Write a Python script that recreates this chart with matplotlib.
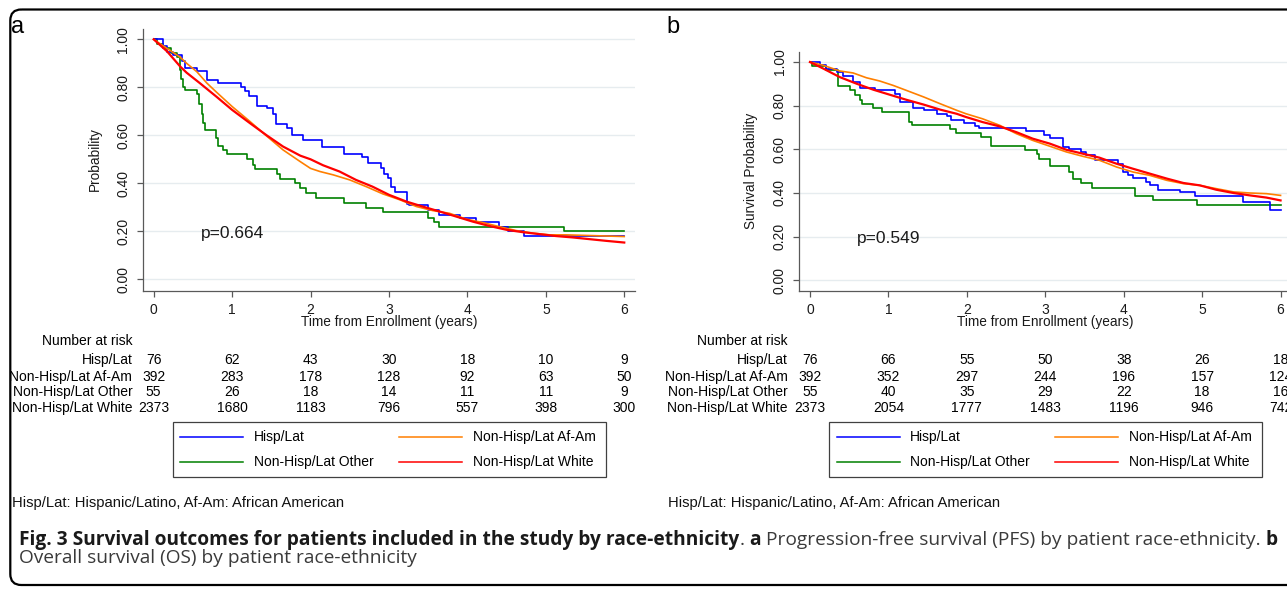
import matplotlib
matplotlib.use("Agg")
import matplotlib.pyplot as plt
from matplotlib.patches import FancyBboxPatch, Rectangle
from matplotlib.transforms import blended_transform_factory

plt.rcParams['font.family'] = ['Liberation Sans', 'DejaVu Sans']

W, H = 1287, 589

groups = ['Hisp/Lat', 'Non-Hisp/Lat Af-Am', 'Non-Hisp/Lat Other', 'Non-Hisp/Lat White']
colors = ['#0000ff', '#ff7f00', '#008000', '#ff0000']
years = [0, 1, 2, 3, 4, 5, 6]
y_ticks = [0.0, 0.2, 0.4, 0.6, 0.8, 1.0]

# ---- a: progression-free survival ----
pfs_hisp_t = [0, 0.12, 0.17, 0.25, 0.36, 0.40, 0.55, 0.68, 0.82, 1.11, 1.16, 1.22, 1.32, 1.44, 1.52,
              1.56, 1.70, 1.76, 1.91, 2.15, 2.43, 2.66, 2.73, 2.90, 2.94, 2.99, 3.02, 3.08, 3.23,
              3.26, 3.50, 3.64, 3.91, 4.11, 4.40, 4.52, 4.72, 6.0]
pfs_hisp_s = [1.0, 0.974, 0.947, 0.934, 0.908, 0.882, 0.868, 0.829, 0.816, 0.800, 0.786, 0.765, 0.722,
              0.712, 0.690, 0.647, 0.629, 0.603, 0.580, 0.553, 0.522, 0.511, 0.483, 0.462, 0.440,
              0.420, 0.386, 0.365, 0.314, 0.310, 0.289, 0.268, 0.254, 0.240, 0.219, 0.199, 0.182, 0.182]
pfs_afam_t = [0, 0.17, 0.34, 0.42, 0.55, 0.68, 0.80, 1.0, 1.23, 1.44, 1.65, 1.87, 2.0, 2.12, 2.29,
              2.50, 2.71, 2.92, 3.14, 3.35, 3.56, 3.77, 3.99, 4.20, 4.41, 4.62, 4.84, 5.05, 5.26, 5.47, 6.0]
pfs_afam_s = [1.0, 0.962, 0.925, 0.900, 0.865, 0.817, 0.780, 0.720, 0.657, 0.597, 0.539, 0.490, 0.462,
              0.449, 0.435, 0.414, 0.386, 0.356, 0.331, 0.303, 0.286, 0.275, 0.250, 0.236, 0.219,
              0.203, 0.192, 0.185, 0.185, 0.183, 0.178]
pfs_other_t = [0, 0.04, 0.12, 0.22, 0.30, 0.335, 0.345, 0.37, 0.40, 0.55, 0.58, 0.61, 0.625, 0.655,
               0.79, 0.82, 0.88, 0.93, 1.19, 1.27, 1.29, 1.57, 1.61, 1.80, 1.87, 1.94, 2.07, 2.43,
               2.71, 2.92, 3.50, 3.58, 3.64, 5.23, 6.0]
pfs_other_s = [1.0, 0.982, 0.964, 0.945, 0.927, 0.873, 0.836, 0.800, 0.790, 0.770, 0.730, 0.690, 0.650,
               0.620, 0.590, 0.557, 0.540, 0.520, 0.500, 0.476, 0.460, 0.440, 0.418, 0.400, 0.380,
               0.360, 0.338, 0.319, 0.296, 0.279, 0.254, 0.240, 0.217, 0.199, 0.199]
pfs_white_t = [0, 0.17, 0.34, 0.42, 0.59, 0.80, 1.0, 1.23, 1.44, 1.65, 1.87, 2.0, 2.16, 2.37, 2.58,
               2.79, 3.0, 3.22, 3.43, 3.65, 3.86, 4.07, 4.28, 4.50, 4.71, 4.92, 5.13, 5.35, 5.56, 5.77, 6.0]
pfs_white_s = [1.0, 0.950, 0.886, 0.861, 0.817, 0.761, 0.706, 0.650, 0.600, 0.553, 0.515, 0.500, 0.475,
               0.449, 0.414, 0.386, 0.352, 0.324, 0.303, 0.282, 0.261, 0.240, 0.222, 0.206, 0.196,
               0.188, 0.180, 0.174, 0.167, 0.160, 0.153]
pfs_risk = [[76, 62, 43, 30, 18, 10, 9],
            [392, 283, 178, 128, 92, 63, 50],
            [55, 26, 18, 14, 11, 11, 9],
            [2373, 1680, 1183, 796, 557, 398, 300]]

# ---- b: overall survival ----
os_hisp_t = [0, 0.13, 0.21, 0.34, 0.42, 0.55, 0.64, 0.83, 1.09, 1.15, 1.32, 1.45, 1.62, 1.75, 1.80,
             1.97, 2.10, 2.16, 2.76, 2.99, 3.06, 3.23, 3.30, 3.45, 3.52, 3.63, 3.93, 3.99, 4.06,
             4.12, 4.29, 4.33, 4.44, 4.72, 4.91, 5.52, 5.86, 6.0]
os_hisp_s = [1.0, 0.985, 0.969, 0.954, 0.934, 0.908, 0.882, 0.870, 0.855, 0.817, 0.790, 0.779, 0.763,
             0.751, 0.735, 0.720, 0.708, 0.698, 0.682, 0.667, 0.652, 0.611, 0.600, 0.588, 0.573,
             0.550, 0.534, 0.496, 0.481, 0.470, 0.450, 0.435, 0.415, 0.405, 0.385, 0.359, 0.324, 0.324]
os_afam_t = [0, 0.17, 0.30, 0.38, 0.55, 0.72, 0.89, 1.06, 1.23, 1.45, 1.66, 1.87, 1.99, 2.20, 2.42,
             2.63, 2.84, 3.06, 3.27, 3.48, 3.69, 3.91, 4.12, 4.33, 4.55, 4.76, 4.97, 5.18, 5.40,
             5.61, 5.82, 6.0]
os_afam_s = [1.0, 0.985, 0.969, 0.959, 0.950, 0.928, 0.913, 0.893, 0.870, 0.840, 0.809, 0.779, 0.763,
             0.740, 0.710, 0.672, 0.641, 0.614, 0.588, 0.568, 0.550, 0.519, 0.496, 0.481, 0.458,
             0.443, 0.435, 0.420, 0.405, 0.400, 0.397, 0.389]
os_other_t = [0, 0.03, 0.21, 0.36, 0.51, 0.57, 0.64, 0.66, 0.81, 0.92, 1.26, 1.30, 1.79, 1.86, 2.18,
              2.31, 2.74, 2.89, 2.92, 3.06, 3.30, 3.35, 3.45, 3.59, 4.14, 4.38, 4.93, 6.0]
os_other_s = [1.0, 0.982, 0.962, 0.889, 0.870, 0.847, 0.827, 0.809, 0.790, 0.771, 0.725, 0.713, 0.695,
              0.675, 0.656, 0.615, 0.598, 0.580, 0.557, 0.524, 0.496, 0.463, 0.445, 0.423, 0.385,
              0.366, 0.347, 0.347]
os_white_t = [0, 0.17, 0.38, 0.60, 0.81, 1.02, 1.23, 1.45, 1.66, 1.87, 1.99, 2.20, 2.42, 2.63, 2.84,
              3.06, 3.27, 3.48, 3.69, 3.91, 4.12, 4.33, 4.55, 4.76, 4.97, 5.18, 5.40, 5.61, 5.82, 6.0]
os_white_s = [1.0, 0.970, 0.931, 0.900, 0.873, 0.850, 0.827, 0.805, 0.782, 0.763, 0.748, 0.725, 0.705,
              0.679, 0.649, 0.626, 0.598, 0.580, 0.562, 0.534, 0.511, 0.489, 0.466, 0.446, 0.435,
              0.415, 0.400, 0.389, 0.379, 0.366]
os_risk = [[76, 66, 55, 50, 38, 26, 18],
           [392, 352, 297, 244, 196, 157, 124],
           [55, 40, 35, 29, 22, 18, 16],
           [2373, 2054, 1777, 1483, 1196, 946, 742]]

note = 'Hisp/Lat: Hispanic/Latino, Af-Am: African American'

# small groups step visibly, the big ones look smooth
stepped = [True, False, True, False]
widths = [1.2, 1.2, 1.2, 1.6]
zorders = [3, 3.5, 2, 4]

fig = plt.figure(figsize=(W / 100, H / 100), dpi=100)
fig.patch.set_facecolor('white')

ov = fig.add_axes([0, 0, 1, 1], zorder=5)
ov.set_xlim(0, W)
ov.set_ylim(H, 0)
ov.axis('off')


def px_axes(left, top, right, bottom):
    return fig.add_axes([left / W, 1 - bottom / H, (right - left) / W, (bottom - top) / H])


def draw_panel(box, ylim, curves, risk, ylabel, pval, letter, letter_xy, table_right, legend_left, note_x):
    ax = px_axes(*box)
    for i, (t, s) in enumerate(curves):
        ax.plot(t, s, color=colors[i], lw=widths[i], zorder=zorders[i],
                drawstyle='steps-post' if stepped[i] else 'default')
    ax.set_xlim(-0.136, 6.137)
    ax.set_ylim(*ylim)
    ax.set_xticks(years)
    ax.set_xticklabels([str(y) for y in years])
    ax.set_yticks(y_ticks)
    ax.set_yticklabels(['%.2f' % v for v in y_ticks], rotation=90, va='center')
    ax.yaxis.grid(True, color='#e6ecef', lw=1.0)
    ax.set_axisbelow(True)
    for side in ['top', 'right']:
        ax.spines[side].set_visible(False)
    for side in ['left', 'bottom']:
        ax.spines[side].set_color('#595959')
        ax.spines[side].set_linewidth(0.9)
    ax.tick_params(direction='out', length=4.5, width=0.9, color='#595959',
                   labelsize=10, labelcolor='#1a1a1a')
    ax.tick_params(axis='y', pad=4.5)
    ax.tick_params(axis='x', pad=4.5)
    ax.text(1.0, 0.19, pval, fontsize=12.5, ha='center', va='center', color='#1a1a1a')

    xt = blended_transform_factory(ax.transData, ov.transData)
    ov.text(3, 322, 'Time from Enrollment (years)', transform=xt, fontsize=9.8,
            ha='center', va='center', color='#1a1a1a')
    y_mid = ov.transData.inverted().transform(ax.transData.transform((0, 0.5)))[1]
    ov.text(box[0] - 48, y_mid, ylabel, rotation=90, fontsize=9.8,
            ha='center', va='center', color='#1a1a1a')
    ov.text(letter_xy[0], letter_xy[1], letter, fontsize=17, ha='left', va='baseline')

    # number at risk table
    ov.text(table_right, 341, 'Number at risk', fontsize=10, ha='right', va='center')
    rows_y = [360, 376.7, 392.3, 407.7]
    for g, row in enumerate(risk):
        ov.text(table_right, rows_y[g], groups[g], fontsize=10, ha='right', va='center')
        for k, n in enumerate(row):
            ov.text(years[k], rows_y[g], str(n), transform=xt, fontsize=10,
                    ha='center', va='center')

    # legend box
    ov.add_patch(Rectangle((legend_left, 421.7), 433, 55.5, fill=False, ec='#404040', lw=0.9))
    spots = [(0, 437.3), (1, 437.3), (0, 461.7), (1, 461.7)]
    for g, (col, yy) in enumerate(spots):
        x0 = legend_left + (7.5 if col == 0 else 226.3)
        ov.plot([x0, x0 + 63], [yy, yy], color=colors[g], lw=1.1)
        ov.text(x0 + 73.8, yy, groups[g], fontsize=10, ha='left', va='center')

    ov.text(note_x, 503.5, note, fontsize=10.6, ha='left', va='center', color='#111111')
    return ax


draw_panel((143, 29, 635, 291), (-0.049, 1.043),
           [(pfs_hisp_t, pfs_hisp_s), (pfs_afam_t, pfs_afam_s),
            (pfs_other_t, pfs_other_s), (pfs_white_t, pfs_white_s)],
           pfs_risk, 'Probability', 'p=0.664', 'a', (11.5, 32.7), 132.3, 172.7, 11.7)
draw_panel((799.3, 52, 1291.3, 291), (-0.049, 1.046),
           [(os_hisp_t, os_hisp_s), (os_afam_t, os_afam_s),
            (os_other_t, os_other_s), (os_white_t, os_white_s)],
           os_risk, 'Survival Probability', 'p=0.549', 'b', (666.7, 33.3), 787.7, 829, 668)

# frame around the figure
ov.add_patch(FancyBboxPatch((10.3, 9.5), 1320, 575.5, boxstyle='round,pad=0,rounding_size=11',
                            fill=False, ec='black', lw=1.6, clip_on=False))

# caption: bold and regular runs laid side by side
cap_font = ['Open Sans', 'DejaVu Sans']
renderer = fig.canvas.get_renderer()


def width_of(s, size, weight):
    t = ov.text(0, 0, s, fontsize=size, fontweight=weight, family=cap_font)
    w = t.get_window_extent(renderer).width
    t.remove()
    return w


def run_width(pieces, size):
    tot = 0
    for s, weight in pieces:
        if s == ' ':
            tot += width_of('n n', size, weight) - width_of('nn', size, weight)
        else:
            tot += width_of(s, size, weight)
    return tot


def put_run(pieces, x, y, size):
    for s, weight in pieces:
        if s == ' ':
            x += width_of('n n', size, weight) - width_of('nn', size, weight)
            continue
        col = '#1a1a1a' if weight == 'bold' else '#3a3a3a'
        t = ov.text(x, y, s, fontsize=size, fontweight=weight, family=cap_font,
                    ha='left', va='baseline', color=col)
        x += t.get_window_extent(renderer).width


line1 = [('Fig. 3 Survival outcomes for patients included in the study by race-ethnicity', 'bold'),
         ('.', 'normal'), (' ', 'normal'), ('a', 'bold'), (' ', 'normal'),
         ('Progression-free survival (PFS) by patient race-ethnicity.', 'normal'),
         (' ', 'normal'), ('b', 'bold')]
line2 = [('Overall survival (OS) by patient race-ethnicity', 'normal')]

base = 11.0
cap_size = base * (1277 - 19) / run_width(line1, base)
put_run(line1, 19, 545, cap_size)
put_run(line2, 19, 563.3, cap_size)

fig.savefig('out.png', dpi=100, facecolor='white')
